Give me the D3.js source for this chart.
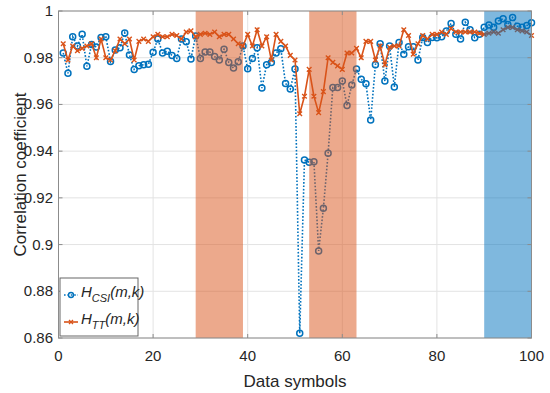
<!DOCTYPE html>
<html>
<head>
<meta charset="utf-8">
<script src="https://cdn.jsdelivr.net/npm/d3@7"></script>
<style>
  html, body { margin: 0; padding: 0; background: #fff; }
  text { font-family: "Liberation Sans", Arial, sans-serif; }
</style>
</head>
<body>
<main></main>
<script>
const w = 550;
const h = 393;

// correlation of H_CSI(m,k) per data symbol (1..100)
const csiValues = [
  0.982, 0.9733, 0.989, 0.985, 0.990, 0.9763, 0.9857, 0.9846, 0.9887, 0.989,
  0.9784, 0.9833, 0.9843, 0.9906, 0.9812, 0.975, 0.9766, 0.977, 0.9772, 0.9823,
  0.988, 0.982, 0.9828, 0.981, 0.9797, 0.988, 0.9868, 0.9795, 0.9893, 0.9797,
  0.9824, 0.9824, 0.9805, 0.979, 0.9836, 0.978, 0.9756, 0.9783, 0.985, 0.9753,
  0.9797, 0.9843, 0.967, 0.977, 0.978, 0.982, 0.9838, 0.969, 0.9666, 0.9752,
  0.862, 0.9362, 0.9352, 0.9355, 0.8973, 0.9155, 0.9391, 0.9673, 0.9673, 0.970,
  0.9595, 0.9683, 0.9752, 0.9708, 0.9689, 0.9533, 0.977, 0.986, 0.970, 0.985,
  0.9675, 0.9865, 0.9815, 0.9847, 0.9847, 0.979, 0.9887, 0.9865, 0.9887, 0.9885,
  0.989, 0.9914, 0.9947, 0.990, 0.988, 0.9952, 0.992, 0.9886, 0.990, 0.993,
  0.994, 0.993, 0.9957, 0.9967, 0.9942, 0.9972, 0.9935, 0.993, 0.9938, 0.995
];

// correlation of H_TT(m,k) per data symbol (1..100)
const ttValues = [
  0.986, 0.979, 0.985, 0.983, 0.984, 0.985, 0.986, 0.980, 0.988, 0.980,
  0.979, 0.983, 0.988, 0.986, 0.988, 0.979, 0.987, 0.988, 0.987, 0.989,
  0.990, 0.989, 0.989, 0.990, 0.9895, 0.988, 0.991, 0.9915, 0.989, 0.990,
  0.9905, 0.990, 0.991, 0.989, 0.990, 0.990, 0.988, 0.986, 0.985, 0.990,
  0.985, 0.992, 0.985, 0.989, 0.979, 0.990, 0.987, 0.985, 0.981, 0.979,
  0.956, 0.9635, 0.975, 0.9635, 0.9565, 0.9655, 0.980, 0.978, 0.9765, 0.975,
  0.982, 0.982, 0.984, 0.980, 0.987, 0.987, 0.979, 0.985, 0.977, 0.9845,
  0.985, 0.985, 0.992, 0.9895, 0.9815, 0.986, 0.9895, 0.988, 0.990, 0.990,
  0.991, 0.990, 0.9925, 0.991, 0.991, 0.991, 0.991, 0.991, 0.9905, 0.990,
  0.9905, 0.991, 0.9905, 0.992, 0.993, 0.993, 0.992, 0.9915, 0.991, 0.9895
];

// shaded symbol ranges
const bandStart = [29, 53, 90];
const bandEnd = [39, 63, 100];

const xTicks = [0, 20, 40, 60, 80, 100];
const yTicks = [0.86, 0.88, 0.9, 0.92, 0.94, 0.96, 0.98, 1];

const blue = "#0072BD";
const orange = "#D95319";
const bandColors = [orange, orange, blue];

const x = d3.scaleLinear().domain([0, 100]).range([58.5, 531.5]);
const y = d3.scaleLinear().domain([0.86, 1]).range([338, 11]);

const svg = d3
  .select("main")
  .append("svg")
  .attr("width", w)
  .attr("height", h);

// grid
svg
  .append("g")
  .selectAll("line")
  .data(xTicks)
  .join("line")
  .attr("x1", (d) => x(d))
  .attr("x2", (d) => x(d))
  .attr("y1", y(0.86))
  .attr("y2", y(1))
  .attr("stroke", "#e3e3e3")
  .attr("stroke-width", 1);

svg
  .append("g")
  .selectAll("line")
  .data(yTicks)
  .join("line")
  .attr("x1", x(0))
  .attr("x2", x(100))
  .attr("y1", (d) => y(d))
  .attr("y2", (d) => y(d))
  .attr("stroke", "#e3e3e3")
  .attr("stroke-width", 1);

const csi = csiValues.map((v, i) => ({ s: i + 1, v }));
const tt = ttValues.map((v, i) => ({ s: i + 1, v }));

const line = d3
  .line()
  .x((d) => x(d.s))
  .y((d) => y(d.v));

const plot = svg.append("g");

// H_CSI: dotted line with circles
plot
  .append("path")
  .datum(csi)
  .attr("d", line)
  .attr("fill", "none")
  .attr("stroke", blue)
  .attr("stroke-width", 1.6)
  .attr("stroke-dasharray", "1.6,1.8");

plot
  .append("g")
  .selectAll("circle")
  .data(csi)
  .join("circle")
  .attr("cx", (d) => x(d.s))
  .attr("cy", (d) => y(d.v))
  .attr("r", 3)
  .attr("fill", "none")
  .attr("stroke", blue)
  .attr("stroke-width", 1.5);

// H_TT: solid line with crosses
plot
  .append("path")
  .datum(tt)
  .attr("d", line)
  .attr("fill", "none")
  .attr("stroke", orange)
  .attr("stroke-width", 1.6);

const cross = (cx, cy, r) =>
  `M${cx - r},${cy - r}L${cx + r},${cy + r}M${cx - r},${cy + r}L${cx + r},${cy - r}`;

plot
  .append("path")
  .attr("d", tt.map((d) => cross(x(d.s), y(d.v), 2.3)).join(""))
  .attr("fill", "none")
  .attr("stroke", orange)
  .attr("stroke-width", 1.4);

// semi-transparent bands on top of the data
svg
  .append("g")
  .selectAll("rect")
  .data(bandStart)
  .join("rect")
  .attr("x", (d) => x(d))
  .attr("y", y(1))
  .attr("width", (d, i) => x(bandEnd[i]) - x(d))
  .attr("height", y(0.86) - y(1))
  .attr("fill", (d, i) => bandColors[i])
  .attr("fill-opacity", 0.5);

// axes box and ticks
const axisColor = "#8c8c8c";
svg
  .append("rect")
  .attr("x", x(0))
  .attr("y", y(1))
  .attr("width", x(100) - x(0))
  .attr("height", y(0.86) - y(1))
  .attr("fill", "none")
  .attr("stroke", axisColor)
  .attr("stroke-width", 1);

const tickLen = 4;
const ticks = svg.append("g").attr("stroke", axisColor).attr("stroke-width", 1);
xTicks.forEach((t) => {
  ticks.append("line").attr("x1", x(t)).attr("x2", x(t)).attr("y1", y(0.86)).attr("y2", y(0.86) - tickLen);
  ticks.append("line").attr("x1", x(t)).attr("x2", x(t)).attr("y1", y(1)).attr("y2", y(1) + tickLen);
});
yTicks.forEach((t) => {
  ticks.append("line").attr("x1", x(0)).attr("x2", x(0) + tickLen).attr("y1", y(t)).attr("y2", y(t));
  ticks.append("line").attr("x1", x(100)).attr("x2", x(100) - tickLen).attr("y1", y(t)).attr("y2", y(t));
});

svg
  .append("g")
  .selectAll("text")
  .data(xTicks)
  .join("text")
  .attr("x", (d) => x(d))
  .attr("y", 361)
  .attr("text-anchor", "middle")
  .attr("font-size", 15)
  .attr("fill", "#262626")
  .text((d) => d);

svg
  .append("g")
  .selectAll("text")
  .data(yTicks)
  .join("text")
  .attr("x", 53)
  .attr("y", (d) => y(d) + 5)
  .attr("text-anchor", "end")
  .attr("font-size", 15)
  .attr("fill", "#262626")
  .text((d) => d);

svg
  .append("text")
  .attr("x", 295)
  .attr("y", 387)
  .attr("text-anchor", "middle")
  .attr("font-size", 17)
  .attr("fill", "#262626")
  .text("Data symbols");

svg
  .append("text")
  .attr("transform", `translate(26, ${(y(1) + y(0.86)) / 2}) rotate(-90)`)
  .attr("text-anchor", "middle")
  .attr("font-size", 17)
  .attr("fill", "#262626")
  .text("Correlation coefficient");

// legend
const legend = svg.append("g").attr("transform", "translate(60, 278)");
legend
  .append("rect")
  .attr("width", 78)
  .attr("height", 58)
  .attr("fill", "#fff")
  .attr("stroke", "#666")
  .attr("stroke-width", 1);

const entries = [
  { label: "H", sub: "CSI", color: blue, dash: "1.6,1.8", mark: "circle" },
  { label: "H", sub: "TT", color: orange, dash: null, mark: "cross" },
];

entries.forEach((e, i) => {
  const cy = 17 + i * 27;
  const g = legend.append("g");
  g.append("line")
    .attr("x1", 4)
    .attr("x2", 18)
    .attr("y1", cy)
    .attr("y2", cy)
    .attr("stroke", e.color)
    .attr("stroke-width", 1.6)
    .attr("stroke-dasharray", e.dash);
  if (e.mark === "circle") {
    g.append("circle")
      .attr("cx", 11)
      .attr("cy", cy)
      .attr("r", 2.5)
      .attr("fill", "none")
      .attr("stroke", e.color)
      .attr("stroke-width", 1.4);
  } else {
    g.append("path")
      .attr("d", cross(11, cy, 2))
      .attr("stroke", e.color)
      .attr("stroke-width", 1.3);
  }
  const t = g
    .append("text")
    .attr("x", 21)
    .attr("y", cy + 2)
    .attr("font-size", 15)
    .attr("font-style", "italic")
    .attr("fill", "#262626");
  t.append("tspan").text(e.label);
  t.append("tspan").attr("font-size", 11).attr("dy", 5).text(e.sub);
  t.append("tspan").attr("dy", -5).text("(m,k)");
});
</script>
</body>
</html>
